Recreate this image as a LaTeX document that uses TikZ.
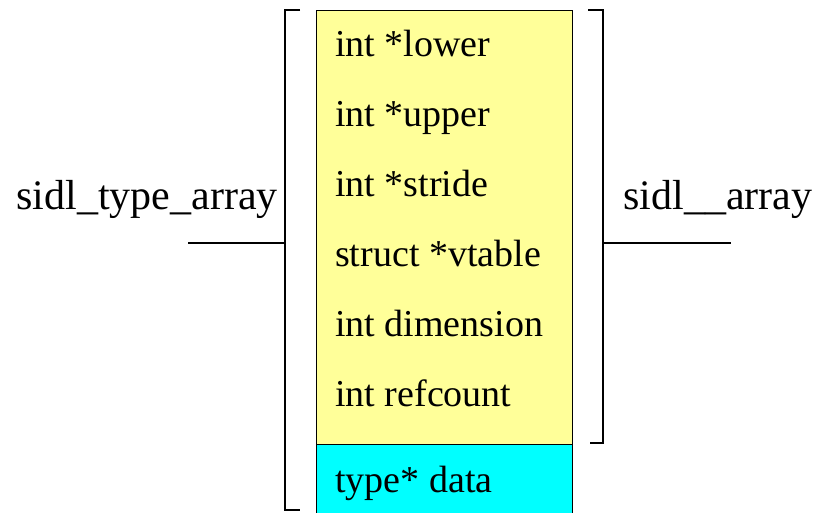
\documentclass[tikz,border=0pt]{standalone}
\usepackage{fontspec}
\setmainfont{Liberation Serif}
\usepackage{tikz}

\definecolor{fieldyellow}{HTML}{FFFF99}
\definecolor{datacyan}{HTML}{00FFFF}

\tikzset{
  field/.style={anchor=base west,inner sep=0pt,font=\fontsize{38}{44}\selectfont},
  label/.style={anchor=base,inner sep=0pt,font=\fontsize{42}{48}\selectfont},
  bracket/.style={line width=1.6pt},
  link/.style={line width=2.6pt}
}

\begin{document}
\begin{tikzpicture}[x=1pt,y=-1pt]
            \useasboundingbox (0,0) rectangle (825,512);
            % record
            \draw[fill=fieldyellow,line width=1pt] (316,10) rectangle (572,444);
            \draw[fill=datacyan,line width=1pt] (316,444) rectangle (572,520);
            \foreach \txt [count=\i] in {int *lower,int *upper,int *stride,struct *vtable,int dimension,int refcount}
                \node[field] (f\i) at (335,{56+70*(\i-1)}) {\txt};
            \node[field] (data) at (335,492) {type* data};
            % brackets
            \draw[bracket] (300,10) -- (285,10) -- (285,510) -- (300,510);
            \draw[bracket] (588,10) -- (603,10) -- (603,443) -- (590,443);
            \coordinate (lb) at (285,243);
            \coordinate (rb) at (603,243);
            % names
            \node[label] (tarr) at (147,209) {sidl\_type\_array};
            \node[label] (sarr) at (718,209) {sidl\_\_array};
            \coordinate (tend) at (188,243);
            \coordinate (send) at (731,243);
            \draw[link] (tend) -- (lb);
            \draw[link] (rb) -- (send);
        \end{tikzpicture}
\end{document}
